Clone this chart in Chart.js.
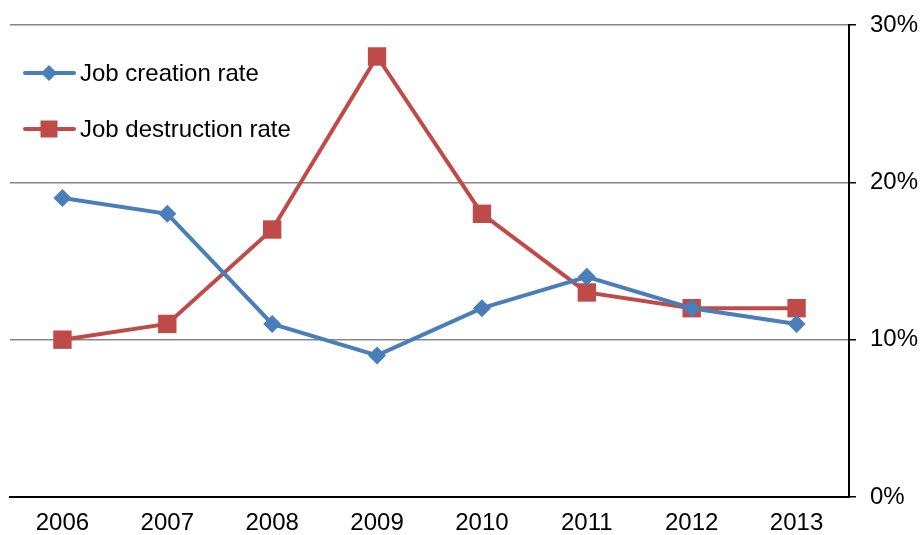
<!DOCTYPE html>
<html>
<head>
<meta charset="utf-8">
<script src="https://cdn.jsdelivr.net/npm/chart.js@4/dist/chart.umd.min.js"></script>
<style>
html,body{margin:0;padding:0;background:#fff;}
#wrap{width:922px;height:535px;}
</style>
</head>
<body>
<div id="wrap"><canvas id="c" width="922" height="535"></canvas></div>
<script>
const years = ['2006','2007','2008','2009','2010','2011','2012','2013'];
const jobCreation = [19, 18, 11, 9, 12, 14, 12, 11];
const jobDestruction = [10, 11, 17, 28, 18, 13, 12, 12];
const yTicks = [0, 10, 20, 30];

const FONT = '"Liberation Sans", Arial, sans-serif';

const insideLegend = {
  id: 'insideLegend',
  afterDraw(chart) {
    const ctx = chart.ctx;
    const items = chart.data.datasets;
    ctx.save();
    items.forEach((ds, i) => {
      const y = 73 + i * 56;
      const x0 = 25, x1 = 74, cx = 49;
      ctx.strokeStyle = ds.borderColor;
      ctx.lineWidth = 4;
      ctx.lineCap = 'round';
      ctx.beginPath(); ctx.moveTo(x0, y); ctx.lineTo(x1, y); ctx.stroke();
      ctx.fillStyle = ds.pointBackgroundColor;
      if (ds.pointStyle === 'rectRot') {
        const r = 8;
        ctx.beginPath();
        ctx.moveTo(cx, y - r); ctx.lineTo(cx + r, y); ctx.lineTo(cx, y + r); ctx.lineTo(cx - r, y);
        ctx.closePath(); ctx.fill();
      } else {
        const h = 8.5;
        ctx.fillRect(cx - h, y - h, 2 * h, 2 * h);
      }
      ctx.fillStyle = '#000';
      ctx.font = '24px ' + FONT;
      ctx.textBaseline = 'middle';
      ctx.textAlign = 'left';
      ctx.fillText(ds.label, 80, y + 1);
    });
    ctx.restore();
  }
};

new Chart(document.getElementById('c'), {
  type: 'line',
  data: {
    labels: years,
    datasets: [
      {
        label: 'Job creation rate',
        data: jobCreation,
        borderColor: '#4A7EBB',
        backgroundColor: '#4A7EBB',
        pointBackgroundColor: '#4A7EBB',
        pointBorderColor: '#4A7EBB',
        pointStyle: 'rectRot',
        pointRadius: 9,
        pointBorderWidth: 0,
        borderWidth: 4,
        tension: 0,
        fill: false
      },
      {
        label: 'Job destruction rate',
        data: jobDestruction,
        borderColor: '#BE4B48',
        backgroundColor: '#BE4B48',
        pointBackgroundColor: '#BE4B48',
        pointBorderColor: '#BE4B48',
        pointStyle: 'rect',
        pointRadius: 13,
        pointBorderWidth: 0,
        borderWidth: 4,
        tension: 0,
        fill: false
      }
    ]
  },
  options: {
    responsive: false,
    animation: false,
    layout: { autoPadding: false, padding: { left: 10, top: 25, right: 0, bottom: 0 } },
    plugins: { legend: { display: false }, tooltip: { enabled: false } },
    scales: {
      x: {
        offset: true,
        grid: { display: false, drawTicks: false },
        border: { display: true, color: '#000', width: 2 },
        ticks: { color: '#000', font: { family: FONT, size: 24 }, padding: 12, maxRotation: 0 },
        afterFit(s) { s.height = 38; s.paddingLeft = 0; s.paddingRight = 0; }
      },
      y: {
        position: 'right',
        min: 0, max: 30,
        afterBuildTicks(s) { s.ticks = yTicks.map(v => ({ value: v })); },
        grid: { color: '#868686', lineWidth: 1.5, tickLength: 7, tickColor: '#000', drawTicks: true },
        border: { display: true, color: '#000', width: 2 },
        ticks: { color: '#000', font: { family: FONT, size: 24 }, padding: 14, callback: v => v + '%' },
        afterFit(s) { s.width = 73; s.paddingTop = 0; s.paddingBottom = 0; }
      }
    }
  },
  plugins: [insideLegend]
});
</script>
</body>
</html>
